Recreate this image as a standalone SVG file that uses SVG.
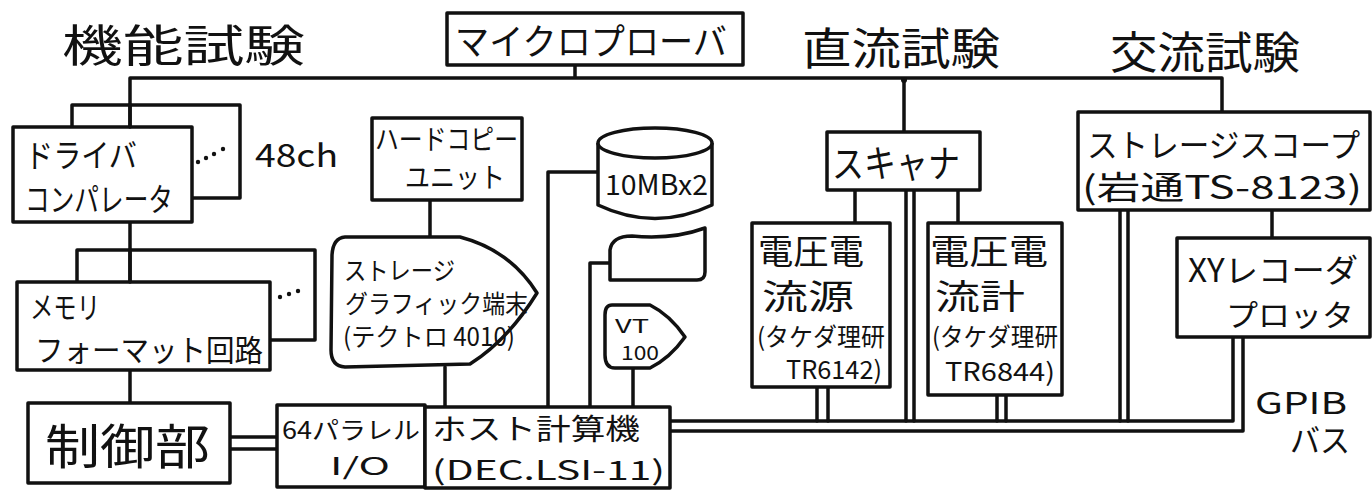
<svg xmlns="http://www.w3.org/2000/svg" width="1372" height="490" viewBox="0 0 1372 490">
<style>
.b{fill:#fff;stroke:#111;stroke-width:3.5;stroke-linejoin:round}
.l{fill:none;stroke:#111;stroke-width:3.5;stroke-linecap:round;stroke-linejoin:round}
.t{font-family:"Noto Sans CJK JP","Liberation Sans",sans-serif;fill:#111}
.d{fill:#111}
</style>
<rect width="1372" height="490" fill="#fff"/>
<g id="connectors">
<path class="l" d="M575,65V78M130,78H1222V112M130,78V127M904,78V132"/>
<circle class="d" cx="904" cy="80" r="3"/>
<path class="l" d="M130,222V282M130,370V403M430,200V237M445,367V407M548,407V172H598M590,407V263H610M633,368V407"/>
<path class="l" d="M855,190V223M958,190V223M1272,210V238"/>
<path class="l" d="M230,437H277M230,449H277"/>
<path class="l" d="M670,421H1233V337M670,431H1243V337"/>
<path class="l" d="M906,190V421M914,190V421M1120,210V421M1128,210V421M817,387V421M828,387V421M997,395V421M1006,395V421"/>
</g>
<g id="labels">
<text class="t" x="62" y="62" font-size="44" textLength="243" lengthAdjust="spacingAndGlyphs">機能試験</text>
<text class="t" x="802" y="65" font-size="44" textLength="198" lengthAdjust="spacingAndGlyphs">直流試験</text>
<text class="t" x="1110" y="69" font-size="44" textLength="190" lengthAdjust="spacingAndGlyphs">交流試験</text>
<text class="t" x="255" y="167" font-size="32" textLength="83" lengthAdjust="spacingAndGlyphs">48ch</text>
<text class="t" x="1255" y="414" font-size="30" textLength="92" lengthAdjust="spacingAndGlyphs">GPIB</text>
<text class="t" x="1290" y="452" font-size="32" textLength="60" lengthAdjust="spacingAndGlyphs">バス</text>
</g>
<g id="microprober">
<rect class="b" x="447" y="13" width="296" height="52"/>
<text class="t" x="455" y="55" font-size="36" textLength="272" lengthAdjust="spacingAndGlyphs">マイクロプローバ</text>
</g>
<g id="driver">
<path class="l" d="M72,127V105H240V198H192"/>
<rect class="b" x="13" y="127" width="179" height="95"/>
<path class="l" d="M130,105V127"/>
<circle class="d" cx="198" cy="162" r="2.2"/><circle class="d" cx="206" cy="158" r="2.2"/><circle class="d" cx="214" cy="154" r="2.2"/><circle class="d" cx="223" cy="149" r="2.2"/>
<text class="t" x="25" y="167" font-size="32" textLength="112" lengthAdjust="spacingAndGlyphs">ドライバ</text>
<text class="t" x="25" y="211" font-size="32" textLength="148" lengthAdjust="spacingAndGlyphs">コンパレータ</text>
</g>
<g id="memory">
<path class="l" d="M77,282V250H315V340H270"/>
<rect class="b" x="17" y="282" width="253" height="88"/>
<path class="l" d="M130,250V282"/>
<circle class="d" cx="280" cy="297" r="2.2"/><circle class="d" cx="289" cy="294" r="2.2"/><circle class="d" cx="298" cy="291" r="2.2"/>
<text class="t" x="30" y="318" font-size="30" textLength="70" lengthAdjust="spacingAndGlyphs">メモリ</text>
<text class="t" x="35" y="361" font-size="30" textLength="228" lengthAdjust="spacingAndGlyphs">フォーマット回路</text>
</g>
<g id="control">
<rect class="b" x="28" y="403" width="202" height="80"/>
<text class="t" x="45" y="464" font-size="48" textLength="165" lengthAdjust="spacingAndGlyphs">制御部</text>
</g>
<g id="parallel-io">
<rect class="b" x="277" y="405" width="148" height="82"/>
<text class="t" x="282" y="439" font-size="24" textLength="138" lengthAdjust="spacingAndGlyphs">64パラレル</text>
<text class="t" x="330" y="475" font-size="24" textLength="60" lengthAdjust="spacingAndGlyphs">I/O</text>
</g>
<g id="host">
<rect class="b" x="425" y="407" width="245" height="81"/>
<text class="t" x="432" y="440" font-size="29" textLength="208" lengthAdjust="spacingAndGlyphs">ホスト計算機</text>
<text class="t" x="432" y="480" font-size="27" textLength="233" lengthAdjust="spacingAndGlyphs">(DEC.LSI-11)</text>
</g>
<g id="hardcopy">
<rect class="b" x="372" y="118" width="150" height="82"/>
<text class="t" x="375" y="150" font-size="28" textLength="143" lengthAdjust="spacingAndGlyphs">ハードコピー</text>
<text class="t" x="405" y="188" font-size="28" textLength="100" lengthAdjust="spacingAndGlyphs">ユニット</text>
</g>
<g id="graphic-terminal">
<path class="b" d="M345,237H460Q510,250 537,293Q508,340 470,364L345,367Q331,366 331,350L332,255Q333,238 345,237Z"/>
<text class="t" x="344" y="280" font-size="25" textLength="111" lengthAdjust="spacingAndGlyphs">ストレージ</text>
<text class="t" x="345" y="313" font-size="25" textLength="183" lengthAdjust="spacingAndGlyphs">グラフィック端末</text>
<text class="t" x="343" y="346" font-size="25" textLength="172" lengthAdjust="spacingAndGlyphs">(テクトロ 4010)</text>
</g>
<g id="disk">
<path class="b" d="M598,143V205Q655,232 712,205V143"/>
<ellipse class="b" cx="655" cy="143" rx="57" ry="15"/>
<text class="t" x="605" y="195" font-size="28" textLength="103" lengthAdjust="spacingAndGlyphs">10MBx2</text>
</g>
<g id="tape">
<path class="b" d="M610,250Q612,236 632,236Q672,240 705,228V272Q705,280 697,280H610Z"/>
</g>
<g id="vt100">
<path class="b" d="M612,305H650Q670,315 685,337Q670,358 650,368H615Q605,368 605,355V315Q605,305 612,305Z"/>
<text class="t" x="615" y="333" font-size="19" textLength="34" lengthAdjust="spacingAndGlyphs">VT</text>
<text class="t" x="621" y="360" font-size="19" textLength="38" lengthAdjust="spacingAndGlyphs">100</text>
</g>
<g id="scanner">
<rect class="b" x="827" y="132" width="153" height="58"/>
<text class="t" x="832" y="177" font-size="38" textLength="128" lengthAdjust="spacingAndGlyphs">スキャナ</text>
</g>
<g id="vi-source">
<rect class="b" x="752" y="223" width="138" height="164"/>
<text class="t" x="758" y="264" font-size="34" textLength="106" lengthAdjust="spacingAndGlyphs">電圧電</text>
<text class="t" x="762" y="309" font-size="34" textLength="92" lengthAdjust="spacingAndGlyphs">流源</text>
<text class="t" x="757" y="346" font-size="25" textLength="128" lengthAdjust="spacingAndGlyphs">(タケダ理研</text>
<text class="t" x="786" y="379" font-size="25" textLength="96" lengthAdjust="spacingAndGlyphs">TR6142)</text>
</g>
<g id="vi-meter">
<rect class="b" x="928" y="223" width="134" height="172"/>
<text class="t" x="930" y="264" font-size="34" textLength="118" lengthAdjust="spacingAndGlyphs">電圧電</text>
<text class="t" x="935" y="309" font-size="34" textLength="90" lengthAdjust="spacingAndGlyphs">流計</text>
<text class="t" x="932" y="346" font-size="25" textLength="126" lengthAdjust="spacingAndGlyphs">(タケダ理研</text>
<text class="t" x="945" y="381" font-size="25" textLength="110" lengthAdjust="spacingAndGlyphs">TR6844)</text>
</g>
<g id="storage-scope">
<rect class="b" x="1078" y="112" width="292" height="98"/>
<text class="t" x="1087" y="157" font-size="32" textLength="273" lengthAdjust="spacingAndGlyphs">ストレージスコープ</text>
<text class="t" x="1082" y="199" font-size="32" textLength="280" lengthAdjust="spacingAndGlyphs">(岩通TS-8123)</text>
</g>
<g id="xy-recorder">
<rect class="b" x="1177" y="238" width="193" height="99"/>
<text class="t" x="1188" y="282" font-size="32" textLength="170" lengthAdjust="spacingAndGlyphs">XYレコーダ</text>
<text class="t" x="1226" y="326" font-size="30" textLength="128" lengthAdjust="spacingAndGlyphs">プロッタ</text>
</g>
</svg>
